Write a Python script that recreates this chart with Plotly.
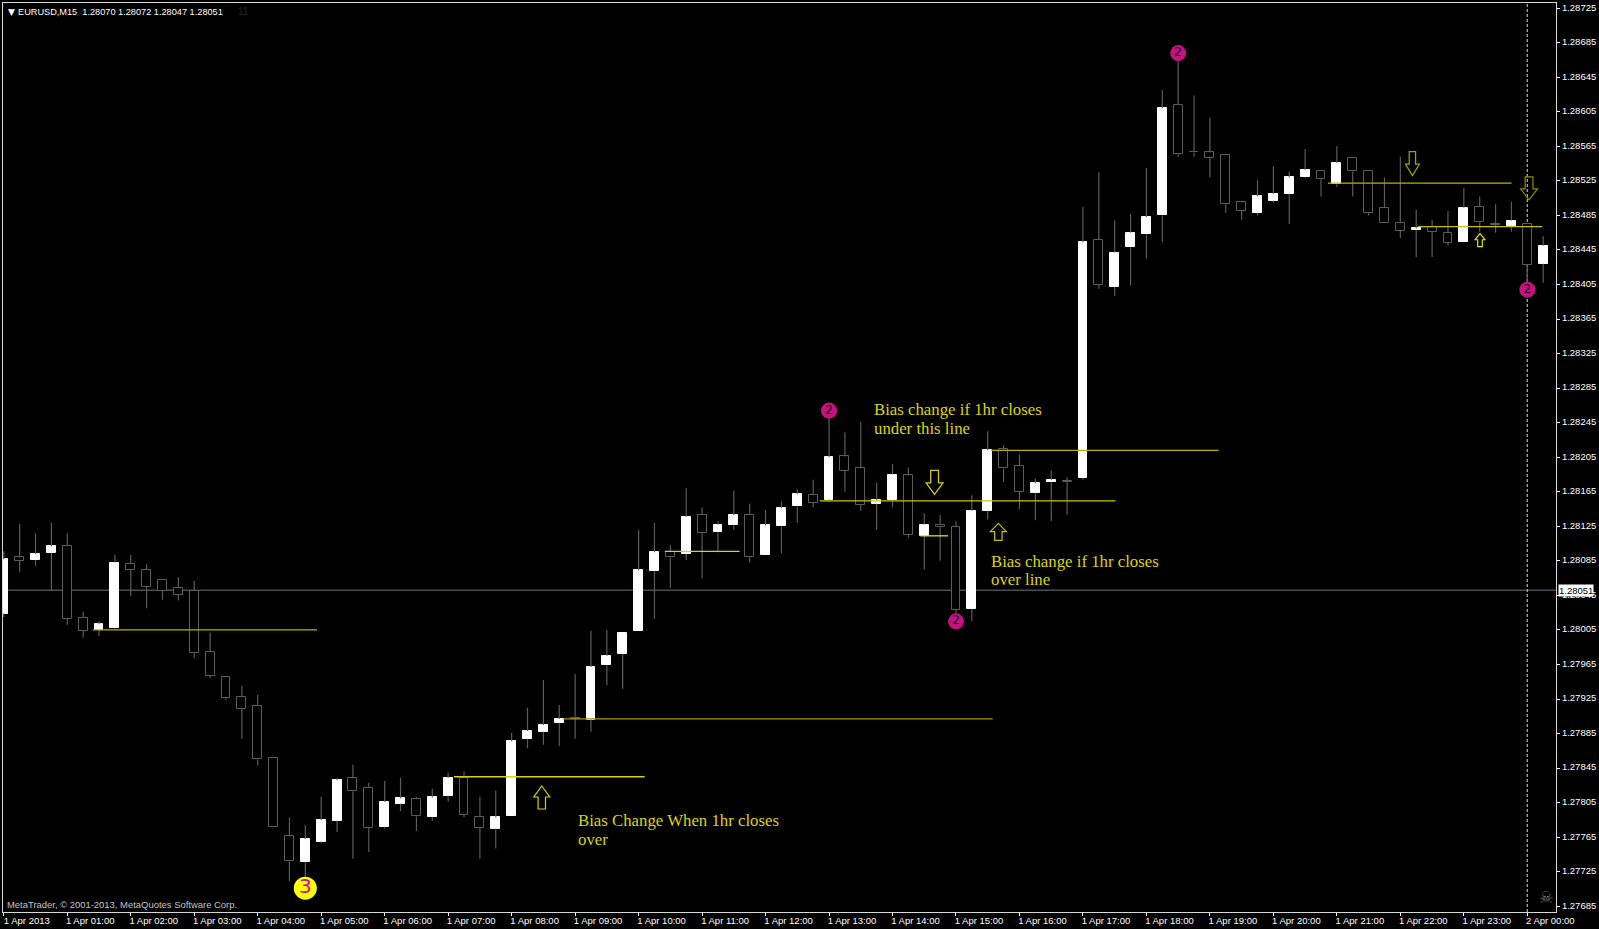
import plotly.graph_objects as go

opens = [1.28024,1.28089,1.28086,1.28094,1.28102,1.28019,1.28005,1.28007,1.28081,1.28075,
1.28063,1.28054,1.28050,1.27980,1.27951,1.27927,1.27917,1.27857,1.27766,1.27736,
1.27760,1.27784,1.27833,1.27822,1.27777,1.27804,1.27809,1.27788,1.27813,1.27834,
1.27788,1.27775,1.27790,1.27879,1.27887,1.27897,1.27903,1.27901,1.27964,1.27977,
1.28004,1.28073,1.28095,1.28093,1.28138,1.28118,1.28126,1.28138,1.28092,1.28125,
1.28148,1.28161,1.28156,1.28206,1.28193,1.28151,1.28155,1.28184,1.28114,1.28127,
1.28124,1.28029,1.28143,1.28214,1.28195,1.28164,1.28176,1.28178,1.28181,1.28457,
1.28402,1.28448,1.28463,1.28485,1.28613,1.28559,1.28558,1.28555,1.28500,1.28488,
1.28502,1.28510,1.28529,1.28536,1.28521,1.28552,1.28536,1.28494,1.28476,1.28468,
1.28472,1.28465,1.28454,1.28495,1.28475,1.28473,1.28475,1.28429]
closes = [1.28087,1.28085,1.28093,1.28102,1.28018,1.28004,1.28012,1.28083,1.28074,1.28055,
1.28050,1.28046,1.27978,1.27952,1.27926,1.27914,1.27855,1.27777,1.27737,1.27763,
1.27785,1.27831,1.27818,1.27776,1.27806,1.27810,1.27789,1.27811,1.27834,1.27791,
1.27776,1.27788,1.27876,1.27888,1.27895,1.27902,1.27902,1.27962,1.27975,1.28002,
1.28074,1.28095,1.28089,1.28136,1.28117,1.28127,1.28138,1.28090,1.28126,1.28146,
1.28162,1.28152,1.28205,1.28189,1.28150,1.28155,1.28185,1.28115,1.28127,1.28124,
1.28028,1.28143,1.28213,1.28192,1.28165,1.28175,1.28179,1.28176,1.28454,1.28405,
1.28442,1.28465,1.28483,1.28609,1.28556,1.28558,1.28552,1.28498,1.28490,1.28507,
1.28510,1.28529,1.28538,1.28527,1.28546,1.28536,1.28488,1.28476,1.28467,1.28470,
1.28466,1.28453,1.28494,1.28477,1.28474,1.28479,1.28428,1.28450]
highs = [1.28096,1.28128,1.28117,1.28129,1.28117,1.28026,1.28015,1.28092,1.28092,1.28081,
1.28063,1.28066,1.28062,1.28002,1.27952,1.27940,1.27930,1.27857,1.27788,1.27779,
1.27812,1.27834,1.27849,1.27828,1.27830,1.27834,1.27812,1.27821,1.27840,1.27841,
1.27812,1.27819,1.27886,1.27915,1.27947,1.27918,1.27954,1.28004,1.28005,1.28002,
1.28121,1.28129,1.28103,1.28169,1.28147,1.28131,1.28166,1.28151,1.28144,1.28154,
1.28168,1.28179,1.28258,1.28234,1.28246,1.28176,1.28197,1.28193,1.28140,1.28138,
1.28131,1.28161,1.28235,1.28219,1.28208,1.28180,1.28190,1.28182,1.28495,1.28535,
1.28479,1.28487,1.28540,1.28630,1.28673,1.28624,1.28598,1.28556,1.28502,1.28526,
1.28542,1.28536,1.28562,1.28536,1.28565,1.28552,1.28536,1.28529,1.28553,1.28492,
1.28480,1.28490,1.28517,1.28507,1.28498,1.28501,1.28475,1.28461]
lows = [1.28020,1.28072,1.28079,1.28050,1.28011,1.27996,1.27998,1.28006,1.28044,1.28030,
1.28040,1.28039,1.27972,1.27949,1.27924,1.27879,1.27848,1.27777,1.27714,1.27717,
1.27758,1.27771,1.27740,1.27748,1.27775,1.27795,1.27772,1.27784,1.27806,1.27788,
1.27740,1.27752,1.27790,1.27868,1.27872,1.27871,1.27879,1.27887,1.27941,1.27937,
1.28004,1.28018,1.28054,1.28086,1.28065,1.28095,1.28121,1.28083,1.28092,1.28094,
1.28129,1.28147,1.28153,1.28165,1.28143,1.28121,1.28147,1.28112,1.28075,1.28085,
1.28024,1.28015,1.28133,1.28176,1.28145,1.28132,1.28131,1.28138,1.28179,1.28400,
1.28392,1.28404,1.28435,1.28454,1.28553,1.28553,1.28529,1.28488,1.28480,1.28485,
1.28500,1.28475,1.28528,1.28507,1.28518,1.28507,1.28485,1.28476,1.28459,1.28437,
1.28437,1.28450,1.28454,1.28466,1.28465,1.28466,1.28402,1.28407]

x_labels = ["1 Apr 2013"] + [f"1 Apr {h:02d}:00" for h in range(1, 24)] + ["2 Apr 00:00"]
x_ticks = [4 * k for k in range(25)]
y_ticks = [round(1.27685 + 0.0004 * k, 5) for k in range(27)]
current_price = 1.28051

# level lines: price, first bar, last bar, colour
levels = [
    (1.28005, 5.6, 19.74, "#b8b000"),
    (1.27835, 28.37, 40.38, "#dcd400"),
    (1.27902, 35.25, 62.31, "#a09a00"),
    (1.28096, 41.65, 46.37, "#dcd400"),
    (1.281545, 51.41, 70.06, "#ccc400"),
    (1.28114, 57.75, 59.5, "#ece400"),
    (1.28213, 62.21, 76.55, "#b8b000"),
    (1.285225, 83.44, 95.01, "#b8b000"),
    (1.28472, 89.12, 96.94, "#c8c000"),
]
# block arrows: bar position, price, direction, height, head width, colour
arrows = [
    (58.65, 1.281758, "down", 24, 17, "#d8d000"),
    (62.67, 1.281186, "up", 17, 16, "#c8c000"),
    (33.90, 1.27811, "up", 23, 16, "#d8d000"),
    (88.76, 1.28545, "down", 24, 14, "#a8a200"),
    (96.11, 1.285164, "down", 23, 17, "#8f8a00"),
    (93.02, 1.284565, "up", 13, 10, "#e6de00"),
]
# numbered markers: bar, price
pink_x = [52, 60, 74, 96]
pink_y = [1.28259, 1.28015, 1.28673, 1.28399]
# note lines: bar position, price, text
notes = [
    (54.71, 1.282607, "Bias change if 1hr closes"),
    (54.71, 1.282384, "under this line"),
    (62.08, 1.280847, "Bias change if 1hr closes"),
    (62.08, 1.280635, "over line"),
    (36.07, 1.277847, "Bias Change When 1hr closes"),
    (36.07, 1.277623, "over"),
]

idx = list(range(len(opens)))
bull = [i for i in idx if closes[i] >= opens[i]]
bear = [i for i in idx if closes[i] < opens[i]]

WICK = "#5c5c5c"
fig = go.Figure()
for group, fill, edge in ((bear, "#000000", WICK), (bull, "#ffffff", "#ffffff")):
    fig.add_trace(go.Bar(
        x=group,
        base=[min(opens[i], closes[i]) for i in group],
        y=[abs(closes[i] - opens[i]) for i in group],
        width=0.56,
        marker=dict(color=fill, line=dict(color=edge, width=1)),
        hoverinfo="skip", showlegend=False))

wx, wy = [], []
for i in idx:
    top, bot = max(opens[i], closes[i]), min(opens[i], closes[i])
    wx += [i, i, None, i, i, None]
    wy += [highs[i], top, None, bot, lows[i], None]
fig.add_trace(go.Scatter(x=wx, y=wy, mode="lines", line=dict(color=WICK, width=1.2),
                         connectgaps=False, hoverinfo="skip", showlegend=False))

for price, a, b, col in levels:
    fig.add_trace(go.Scatter(x=[a, b], y=[price, price], mode="lines",
                             line=dict(color=col, width=1.3), hoverinfo="skip", showlegend=False))

fig.add_trace(go.Scatter(
    x=pink_x, y=pink_y, mode="markers+text", text=["2"] * 4,
    marker=dict(size=16, color="#c4127f"),
    textfont=dict(family="DejaVu Sans", size=12, color="#1a0510"),
    textposition="middle center", hoverinfo="skip", showlegend=False))
fig.add_trace(go.Scatter(
    x=[19], y=[1.27706], mode="markers+text", text=["3"],
    marker=dict(size=23, color="#ffff00"),
    textfont=dict(family="DejaVu Sans", size=20, color="#c8108a"),
    textposition="middle center", hoverinfo="skip", showlegend=False))


def arrow_path(direction, h, w):
    s = 1 if direction == "up" else -1
    sw = w * 0.23
    head = h * 0.48
    pts = [(0, s * h / 2), (w / 2, s * (h / 2 - head)), (sw, s * (h / 2 - head)),
           (sw, -s * h / 2), (-sw, -s * h / 2), (-sw, s * (h / 2 - head)), (-w / 2, s * (h / 2 - head))]
    return "M" + " L".join(f"{px:.1f},{py:.1f}" for px, py in pts) + " Z"


shapes = [
    dict(type="line", xref="paper", yref="y", x0=0, x1=1, y0=current_price, y1=current_price,
         layer="below", line=dict(color="#484e54", width=1.5)),
    dict(type="line", xref="x", yref="paper", x0=96, x1=96, y0=0, y1=1,
         layer="below", line=dict(color="#a8a8a8", width=1.3, dash="3px,2px")),
]
for ax, ay, d, h, w, col in arrows:
    shapes.append(dict(type="path", xref="x", yref="y", xsizemode="pixel", ysizemode="pixel",
                       xanchor=ax, yanchor=ay, path=arrow_path(d, h, w),
                       line=dict(color=col, width=1.2), fillcolor="rgba(0,0,0,0)", layer="above"))

annots = [dict(x=x, y=y, xref="x", yref="y", text=t, showarrow=False, xanchor="left", yanchor="middle",
               align="left", font=dict(family="Liberation Serif", size=16.8, color="#dcd400"))
          for x, y, t in notes]
UI = "Liberation Sans"
annots += [
    dict(x=0.0022, y=0.9905, xref="paper", yref="paper", xanchor="left", yanchor="middle", showarrow=False,
         text="▼", font=dict(family="DejaVu Sans", size=9, color="#ffffff")),
    dict(x=0.0085, y=0.9905, xref="paper", yref="paper", xanchor="left", yanchor="middle", showarrow=False,
         text="EURUSD,M15  1.28070 1.28072 1.28047 1.28051", font=dict(family=UI, size=9.2, color="#ffffff")),
    dict(x=0.1500, y=0.9905, xref="paper", yref="paper", xanchor="left", yanchor="middle", showarrow=False,
         text="11", font=dict(family=UI, size=10, color="#1c2a2a")),
    dict(x=0.0013, y=0.0085, xref="paper", yref="paper", xanchor="left", yanchor="middle", showarrow=False,
         text="MetaTrader, © 2001-2013, MetaQuotes Software Corp.", font=dict(family=UI, size=9.45, color="#c4c4c4")),
    dict(x=0.9935, y=0.0165, xref="paper", yref="paper", xanchor="center", yanchor="middle", showarrow=False,
         text="☠", font=dict(family="DejaVu Sans", size=16, color="#6a6a6a")),
    dict(x=1.001, y=current_price, xref="paper", yref="y", xanchor="left", yanchor="middle", showarrow=False,
         text="1.28051", bgcolor="#ffffff", borderpad=0, font=dict(family=UI, size=9.5, color="#000000")),
]

fig.update_layout(
    width=1599, height=929, autosize=False,
    margin=dict(l=3, r=42.5, t=3, b=17.3, pad=0),
    paper_bgcolor="#000000", plot_bgcolor="#000000",
    barmode="overlay", bargap=0, showlegend=False,
    shapes=shapes, annotations=annots,
    xaxis=dict(range=[-0.05, 97.808], tickmode="array", tickvals=x_ticks, ticktext=x_labels,
               showgrid=False, zeroline=False, showline=True, linecolor="#d8d8d8", linewidth=1, mirror=True,
               ticks="outside", ticklen=3, tickcolor="#ffffff", tickangle=0, automargin=False,
               ticklabelshift=23, ticklabelstandoff=-3,
               tickfont=dict(family=UI, size=9.5, color="#ffffff")),
    yaxis=dict(range=[1.276784, 1.28731], side="right", tickmode="array", tickvals=y_ticks,
               tickformat=".5f", showgrid=False, zeroline=False, showline=True, linecolor="#d8d8d8",
               linewidth=1, mirror=True, ticks="outside", ticklen=3, tickcolor="#ffffff", automargin=False,
               ticklabelshift=-1,
               tickfont=dict(family=UI, size=9.5, color="#ffffff")),
)
fig.write_html("out.html", config=dict(displayModeBar=False),
               post_script="document.body.style.margin='0';document.body.style.background='#000';document.documentElement.style.overflow='hidden';")
